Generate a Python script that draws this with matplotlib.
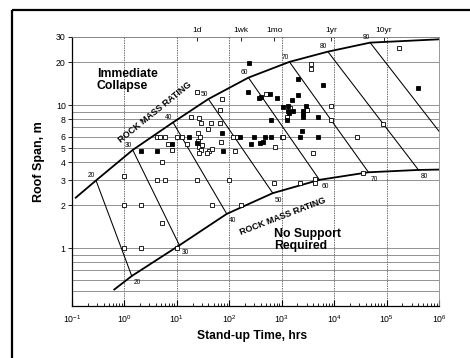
import matplotlib
matplotlib.use("Agg")
import matplotlib.pyplot as plt
from matplotlib.lines import Line2D
from matplotlib.ticker import FixedLocator, NullFormatter, LogLocator, LogFormatterSciNotation

plt.rcParams["font.family"] = ["Liberation Sans", "DejaVu Sans"]

# rock mass rating lines: top end on the collapse curve, bottom end on the no-support curve
rmr = [20, 30, 40, 50, 60, 70, 80, 90]
upper_t = [0.287, 1.44, 8.45, 39.9, 232, 1403, 7590, 48600]
upper_s = [2.98, 4.87, 7.59, 11.05, 15.6, 20.1, 23.7, 27.4]
lower_t = [1.38, 11.2, 89.5, 676, 5250, 45200, 406000, 3.7e6]
lower_s = [0.64, 1.05, 1.74, 2.43, 3.01, 3.40, 3.53, 3.55]

# ends of the two boundary curves
upper_start = (0.118, 2.26)
upper_end = (1e6, 28.9)
lower_start = (0.64, 0.515)
lower_end = (1e6, 3.55)

# case histories (stand-up time in hours, roof span in m)
open_t = [1.0, 1.0, 2.05, 1.0, 2.05, 10.2, 5.1, 5.1, 4.1, 6.0,
          4.1, 4.8, 5.9, 9.9, 12.4, 8.0, 6.9, 15.5, 18.4, 24.6,
          27, 29, 25, 28, 25, 27, 29, 27, 40, 45,
          67, 73, 67, 41, 46, 38, 70, 120, 142, 130,
          47, 168, 24.6, 98, 724, 2240, 4340, 4340, 748, 1000,
          1070, 500, 3640, 3640, 1445, 3040, 1250, 8770, 8770, 87000,
          27100, 3920, 36300, 169000, 30]
open_s = [3.2, 2.0, 2.0, 1.0, 1.0, 1.0, 1.5, 4.0, 3.0, 3.0,
          6.0, 6.0, 6.0, 6.0, 6.0, 4.9, 5.4, 5.4, 8.3, 12.4,
          8.1, 7.55, 6.35, 6.0, 5.66, 5.1, 4.9, 4.6, 6.86, 7.55,
          7.55, 11.1, 9.2, 4.8, 4.95, 4.6, 5.55, 6.0, 6.0, 4.8,
          2.0, 2.0, 3.0, 3.0, 2.84, 2.84, 3.06, 2.84, 5.1, 6.0,
          6.0, 12.0, 19.4, 17.9, 9.5, 9.25, 8.3, 9.93, 7.9, 7.4,
          6.0, 4.6, 3.37, 25.3, 5.3]
filled_t = [2.05, 4.1, 8.1, 16.9, 24.6, 73, 75, 161, 301, 257,
            390, 440, 482, 617, 2240, 4890, 2420, 617, 1250, 2600,
            2600, 2600, 2920, 5000, 1080, 1340, 1340, 1640, 1560, 2080,
            2080, 6080, 828, 600, 372, 405, 231, 239, 395000, 1400]
filled_s = [4.76, 4.76, 5.36, 6.0, 5.42, 6.36, 4.8, 6.0, 6.0, 5.36,
            5.42, 5.5, 6.0, 6.0, 6.0, 6.0, 6.64, 7.9, 7.9, 9.15,
            8.7, 8.3, 9.9, 8.3, 9.8, 9.9, 9.15, 9.15, 10.8, 11.8,
            15.2, 13.9, 11.3, 12.0, 11.3, 11.5, 12.3, 19.8, 13.2, 8.8]

y_ticks = [1, 2, 3, 4, 5, 6, 8, 10, 20, 30]
y_grid = [0.5, 0.6, 0.7, 0.8, 0.9, 1, 2, 3, 4, 5, 6, 7, 8, 9, 10, 20, 30]
top_t = [24, 168, 720, 8760, 87600]
top_labels = ["1d", "1wk", "1mo", "1yr", "10yr"]

fig = plt.figure(figsize=(4.7, 3.58), dpi=100)
ax = fig.add_axes([72 / 470, 52 / 358, 367 / 470, 269 / 358])
ax.set_xscale("log")
ax.set_yscale("log")
ax.set_xlim(0.1, 1e6)
ax.set_ylim(0.395, 30)

for v in y_grid:
    ax.axhline(v, color="#808080", lw=0.6, zorder=1)
for e in range(0, 6):
    ax.axvline(10.0 ** e, color="#707070", lw=0.7, ls=(0, (1.5, 1)), zorder=1)

# boundary curves
ut = [upper_start[0]] + upper_t + [upper_end[0]]
us = [upper_start[1]] + upper_s + [upper_end[1]]
ax.plot(ut, us, color="black", lw=1.3, zorder=3)
lt = [lower_start[0]] + lower_t[:-1] + [lower_end[0]]
ls_ = [lower_start[1]] + lower_s[:-1] + [lower_end[1]]
ax.plot(lt, ls_, color="black", lw=1.3, zorder=3)

for r, t0, s0, t1, s1 in zip(rmr, upper_t, upper_s, lower_t, lower_s):
    ax.plot([t0, t1], [s0, s1], color="black", lw=0.75, zorder=2)
    ax.annotate(str(r), (t0, s0), xytext=(-3, 3.5), textcoords="offset points",
                ha="center", va="center", fontsize=4.8, zorder=4)
    if r < 90:
        ax.annotate(str(r), (t1, s1), xytext=(4, -5), textcoords="offset points",
                    ha="center", va="center", fontsize=4.8, zorder=4)

ax.plot(open_t, open_s, ls="none", marker="s", ms=3.4, mfc="white", mec="black",
        mew=0.6, zorder=5)
ax.plot(filled_t, filled_s, ls="none", marker="s", ms=3.4, mfc="black", mec="black",
        mew=0.6, zorder=5)

ax.text(3.84, 8.87, "ROCK MASS RATING", rotation=39, rotation_mode="anchor",
        ha="center", va="center", fontsize=6.5, fontweight="bold", zorder=4)
ax.text(1064, 1.67, "ROCK MASS RATING", rotation=21, rotation_mode="anchor",
        ha="center", va="center", fontsize=6.5, fontweight="bold", zorder=4)
ax.text(0.296, 18.2, "Immediate\nCollapse", ha="left", va="top", fontsize=8.8,
        fontweight="bold", linespacing=1.0, zorder=4)
ax.text(716, 1.38, "No Support\nRequired", ha="left", va="top", fontsize=8.8,
        fontweight="bold", linespacing=1.0, zorder=4)

ax.yaxis.set_major_locator(FixedLocator(y_ticks))
ax.yaxis.set_major_formatter(plt.FixedFormatter([str(v) for v in y_ticks]))
ax.yaxis.set_minor_locator(FixedLocator([]))
ax.yaxis.set_minor_formatter(NullFormatter())
ax.xaxis.set_major_locator(LogLocator(base=10, numticks=10))
ax.xaxis.set_major_formatter(LogFormatterSciNotation())
ax.xaxis.set_minor_locator(LogLocator(base=10, subs=range(2, 10), numticks=10))
ax.xaxis.set_minor_formatter(NullFormatter())
ax.tick_params(axis="x", which="major", direction="in", length=4, width=0.8,
               labelsize=6.3, pad=5)
ax.tick_params(axis="x", which="minor", direction="in", length=2, width=0.6)
ax.tick_params(axis="y", which="major", direction="out", length=3, width=0.6,
               labelsize=6.3, pad=1.5)

top = ax.secondary_xaxis("top")
top.set_xticks(top_t)
top.set_xticklabels(top_labels)
top.xaxis.set_minor_locator(FixedLocator([]))
top.tick_params(axis="x", which="major", direction="in", length=3, width=0.6,
                labelsize=6, pad=2)
top.spines["top"].set_color("#888888")
top.spines["top"].set_linewidth(0.6)

for side in ["left", "bottom"]:
    ax.spines[side].set_linewidth(0.9)
for side in ["top", "right"]:
    ax.spines[side].set_color("#888888")
    ax.spines[side].set_linewidth(0.6)

fig.text(252 / 470, 1 - 336 / 358, "Stand-up Time, hrs", ha="center", va="center",
         fontsize=8.7, fontweight="bold")
fig.text(39 / 470, 1 - 162 / 358, "Roof Span, m", ha="center", va="center",
         rotation=90, fontsize=9, fontweight="bold")

# scanned frame around the figure (runs off the right and bottom edges)
fig.add_artist(Line2D([12 / 470, 12 / 470], [-0.05, 1 - 10 / 358], color="black",
                      lw=1.6, solid_capstyle="butt"))
fig.add_artist(Line2D([12 / 470, 1.05], [1 - 10 / 358, 1 - 10 / 358], color="black",
                      lw=1.6, solid_capstyle="butt"))

fig.savefig("out.png", dpi=100, facecolor="white")
